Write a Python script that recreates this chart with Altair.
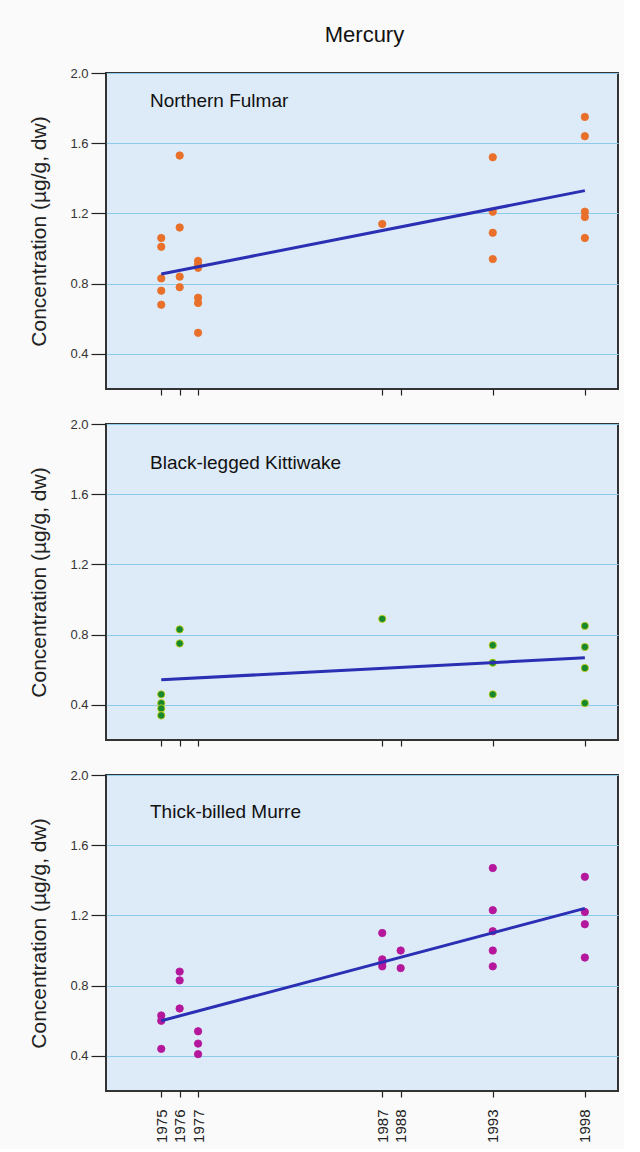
import altair as alt
import pandas as pd

# ---- data ----
fulmar_year = [1975, 1975, 1975, 1975, 1975, 1976, 1976, 1976, 1976,
               1977, 1977, 1977, 1977, 1977, 1977, 1987,
               1993, 1993, 1993, 1993, 1998, 1998, 1998, 1998, 1998]
fulmar_hg = [1.06, 1.01, 0.83, 0.76, 0.68, 1.53, 1.12, 0.84, 0.78,
             0.93, 0.91, 0.89, 0.72, 0.69, 0.52, 1.14,
             1.52, 1.21, 1.09, 0.94, 1.75, 1.64, 1.21, 1.18, 1.06]

kitti_year = [1975, 1975, 1975, 1975, 1976, 1976, 1987,
              1993, 1993, 1993, 1998, 1998, 1998, 1998]
kitti_hg = [0.46, 0.41, 0.38, 0.34, 0.83, 0.75, 0.89,
            0.74, 0.64, 0.46, 0.85, 0.73, 0.61, 0.41]

murre_year = [1975, 1975, 1975, 1976, 1976, 1976, 1977, 1977, 1977,
              1987, 1987, 1987, 1987, 1988, 1988,
              1993, 1993, 1993, 1993, 1993, 1998, 1998, 1998, 1998]
murre_hg = [0.63, 0.60, 0.44, 0.88, 0.83, 0.67, 0.54, 0.47, 0.41,
            1.10, 0.95, 0.93, 0.91, 1.00, 0.90,
            1.47, 1.23, 1.11, 1.00, 0.91, 1.42, 1.22, 1.15, 0.96]

trend_year = [1975, 1998]
fulmar_trend = [0.855, 1.33]
kitti_trend = [0.543, 0.668]
murre_trend = [0.60, 1.24]

species = ["Northern Fulmar", "Black-legged Kittiwake", "Thick-billed Murre"]
label_y = [28, 39, 37]
colors = ["#e8702a", "#17882c", "#b4179c"]
strokes = ["#e8702a", "#d8d820", "#b4179c"]
tick_years = [1975, 1976, 1977, 1987, 1988, 1993, 1998]
y_ticks = [0.4, 0.8, 1.2, 1.6, 2.0]

FONT = "Liberation Sans, Arial, Helvetica, sans-serif"


def panel(name, ly, years, vals, trend, color, stroke, show_labels):
    pts = pd.DataFrame({"year": years, "hg": vals})
    tr = pd.DataFrame({"year": trend_year, "hg": trend})
    xaxis = alt.Axis(values=tick_years, labels=show_labels, labelAngle=-90,
                     labelAlign="right", labelBaseline="middle", labelPadding=12,
                     format="d", grid=False, ticks=True, tickSize=6, tickColor="#222",
                     tickWidth=1.2, domain=False, title=None, labelFontSize=15,
                     labelFont=FONT, labelColor="#222")
    x = alt.X("year:Q", scale=alt.Scale(domain=[1972, 1999.8], nice=False, zero=False),
              axis=xaxis)
    y = alt.Y("hg:Q", scale=alt.Scale(domain=[0.2, 2.0], nice=False, zero=False),
              axis=alt.Axis(values=y_ticks, format=".1f", title="Concentration (µg/g, dw)",
                            titleFontSize=21, titleFont=FONT, titleFontWeight="normal",
                            titleColor="#222", titlePadding=20,
                            labelFontSize=13, labelFont=FONT, labelColor="#333",
                            tickSize=15, tickColor="#222", tickWidth=1.2, domain=False,
                            grid=True, gridColor="#8ccbea", gridWidth=1, labelPadding=3))
    points = alt.Chart(pts).mark_circle(size=55, opacity=1, color=color,
                                        stroke=stroke, strokeWidth=0.8).encode(x=x, y=y)
    line = alt.Chart(tr).mark_line(color="#2a2fb4", strokeWidth=3).encode(x="year:Q", y="hg:Q")
    label = alt.Chart(pd.DataFrame({"t": [name]})).mark_text(
        align="left", baseline="middle", fontSize=19, font=FONT, color="#111"
    ).encode(x=alt.value(44), y=alt.value(ly), text="t:N")
    return alt.layer(points, line, label).properties(width=512, height=316)


charts = [
    panel(species[0], label_y[0], fulmar_year, fulmar_hg, fulmar_trend, colors[0], strokes[0], False),
    panel(species[1], label_y[1], kitti_year, kitti_hg, kitti_trend, colors[1], strokes[1], False),
    panel(species[2], label_y[2], murre_year, murre_hg, murre_trend, colors[2], strokes[2], True),
]

chart = alt.vconcat(*charts, spacing=35, bounds="flush").properties(
    title=alt.TitleParams("Mercury", fontSize=22, font=FONT, fontWeight="normal",
                          color="#111", anchor="middle", offset=19, dx=41),
    padding={"left": 27, "top": 24, "right": 5, "bottom": 5},
).configure(background="#fafafa").configure_view(
    fill="#ddebf8", stroke="#333", strokeWidth=2
)

chart.save("out.html", embed_options={"renderer": "svg", "actions": False})
